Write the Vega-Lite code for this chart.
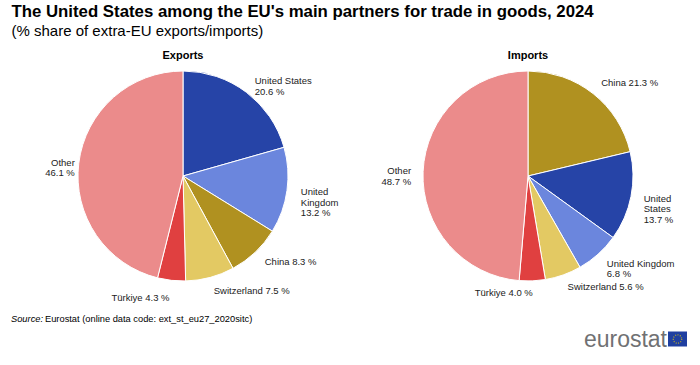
{
  "$schema": "https://vega.github.io/schema/vega-lite/v6.json",
  "background": "white",
  "padding": {"left": 11, "top": 4, "right": 0, "bottom": 0},
  "spacing": 1,
  "title": {
    "text": "The United States among the EU's main partners for trade in goods, 2024",
    "subtitle": "(% share of extra-EU exports/imports)",
    "anchor": "start",
    "dx": 0.5,
    "font": "Liberation Sans",
    "fontSize": 16.8,
    "fontWeight": "bold",
    "color": "#000000",
    "subtitleFont": "Liberation Sans",
    "subtitleFontSize": 15,
    "subtitleColor": "#000000",
    "subtitlePadding": 3,
    "offset": 11
  },
  "config": {
    "view": {"stroke": null},
    "text": {"font": "Liberation Sans"}
  },
  "vconcat": [
    {
      "bounds": "flush",
      "spacing": 1,
      "hconcat": [
        {
          "width": 344,
          "height": 230,
          "title": {"text": "Exports", "font": "Liberation Sans", "fontSize": 11, "fontWeight": "bold", "color": "#000000", "offset": 0},
          "data": {"values": [
            {"partner": "United States", "share": 20.6, "rank": 1, "label": "United States\n20.6 %"},
            {"partner": "United Kingdom", "share": 13.2, "rank": 2, "label": "United\nKingdom\n13.2 %"},
            {"partner": "China", "share": 8.3, "rank": 3, "label": "China 8.3 %"},
            {"partner": "Switzerland", "share": 7.5, "rank": 4, "label": "Switzerland  7.5 %"},
            {"partner": "Türkiye", "share": 4.3, "rank": 5, "label": "Türkiye 4.3 %"},
            {"partner": "Other", "share": 46.1, "rank": 6, "label": "Other\n46.1 %"}
          ]},
          "encoding": {
            "theta": {"field": "share", "type": "quantitative", "stack": true},
            "order": {"field": "rank", "type": "quantitative"}
          },
          "layer": [
            {
              "mark": {"type": "arc", "outerRadius": 105, "stroke": "#ffffff", "strokeWidth": 1},
              "encoding": {
                "color": {"field": "partner", "type": "nominal", "legend": null,
                  "scale": {"domain": ["United States", "United Kingdom", "China", "Switzerland", "Türkiye", "Other"],
                            "range": ["#2644A7", "#6B86DD", "#B09120", "#E3C963", "#E04040", "#EB8B8B"]}}
              }
            },
            {
              "mark": {"type": "text", "radius": 119, "align": "left", "baseline": "middle", "fontSize": 9.5, "lineBreak": "\n", "lineHeight": 10.5, "color": "#222222"},
              "encoding": {"text": {"condition": {"test": "datum.partner !== 'Türkiye' && datum.partner !== 'Other'", "field": "label"}, "value": ""}}
            },
            {
              "mark": {"type": "text", "radius": 123, "align": "right", "baseline": "middle", "fontSize": 9.5, "lineBreak": "\n", "lineHeight": 10.5, "color": "#222222"},
              "encoding": {"text": {"condition": {"test": "datum.partner === 'Türkiye'", "field": "label"}, "value": ""}}
            },
            {
              "mark": {"type": "text", "radius": 109, "align": "right", "baseline": "middle", "fontSize": 9.5, "lineBreak": "\n", "lineHeight": 10.5, "color": "#222222"},
              "encoding": {"text": {"condition": {"test": "datum.partner === 'Other'", "field": "label"}, "value": ""}}
            }
          ]
        },
        {
          "width": 344,
          "height": 230,
          "title": {"text": "Imports", "font": "Liberation Sans", "fontSize": 11, "fontWeight": "bold", "color": "#000000", "offset": 0},
          "data": {"values": [
            {"partner": "China", "share": 21.3, "rank": 1, "label": "China 21.3 %"},
            {"partner": "United States", "share": 13.7, "rank": 2, "label": "United\nStates\n13.7 %"},
            {"partner": "United Kingdom", "share": 6.8, "rank": 3, "label": "United  Kingdom\n6.8 %"},
            {"partner": "Switzerland", "share": 5.6, "rank": 4, "label": "Switzerland  5.6 %"},
            {"partner": "Türkiye", "share": 4.0, "rank": 5, "label": "Türkiye 4.0 %"},
            {"partner": "Other", "share": 48.7, "rank": 6, "label": "Other\n48.7 %"}
          ]},
          "encoding": {
            "theta": {"field": "share", "type": "quantitative", "stack": true},
            "order": {"field": "rank", "type": "quantitative"}
          },
          "layer": [
            {
              "mark": {"type": "arc", "outerRadius": 105, "stroke": "#ffffff", "strokeWidth": 1},
              "encoding": {
                "color": {"field": "partner", "type": "nominal", "legend": null,
                  "scale": {"domain": ["United States", "United Kingdom", "China", "Switzerland", "Türkiye", "Other"],
                            "range": ["#2644A7", "#6B86DD", "#B09120", "#E3C963", "#E04040", "#EB8B8B"]}}
              }
            },
            {
              "mark": {"type": "text", "radius": 118, "align": "left", "baseline": "middle", "fontSize": 9.5, "lineBreak": "\n", "lineHeight": 10.5, "color": "#222222"},
              "encoding": {"text": {"condition": {"test": "datum.partner !== 'Türkiye' && datum.partner !== 'Other'", "field": "label"}, "value": ""}}
            },
            {
              "mark": {"type": "text", "radius": 117, "align": "right", "baseline": "middle", "fontSize": 9.5, "lineBreak": "\n", "lineHeight": 10.5, "color": "#222222"},
              "encoding": {"text": {"condition": {"test": "datum.partner === 'Türkiye' || datum.partner === 'Other'", "field": "label"}, "value": ""}}
            }
          ]
        }
      ]
    },
    {
      "width": 689,
      "height": 55,
      "data": {"values": [{"source": "Eurostat (online data code: ext_st_eu27_2020sitc)", "logo": "eurostat"}]},
      "layer": [
        {
          "mark": {"type": "text", "align": "left", "baseline": "middle", "fontSize": 9.3, "fontStyle": "italic", "color": "#000000"},
          "encoding": {
            "x": {"datum": 0, "type": "quantitative", "scale": {"domain": [0, 689], "nice": false, "zero": false}, "axis": null},
            "y": {"datum": 15, "type": "quantitative", "scale": {"domain": [0, 55], "nice": false, "reverse": true}, "axis": null},
            "text": {"value": "Source:"}
          }
        },
        {
          "mark": {"type": "text", "align": "left", "baseline": "middle", "fontSize": 9.3, "color": "#000000"},
          "encoding": {
            "x": {"datum": 34, "type": "quantitative"},
            "y": {"datum": 15, "type": "quantitative"},
            "text": {"field": "source"}
          }
        },
        {
          "mark": {"type": "text", "align": "right", "baseline": "alphabetic", "fontSize": 23, "color": "#707173"},
          "encoding": {
            "x": {"datum": 656, "type": "quantitative"},
            "y": {"datum": 42.5, "type": "quantitative"},
            "text": {"field": "logo"}
          }
        },
        {
          "mark": {"type": "rect", "color": "#1F3FA0"},
          "encoding": {
            "x": {"datum": 657, "type": "quantitative"},
            "x2": {"datum": 676},
            "y": {"datum": 27.5, "type": "quantitative"},
            "y2": {"datum": 42.5}
          }
        },
        {
          "mark": {"type": "point", "shape": "circle", "filled": false, "size": 70, "stroke": "#F2D300", "strokeWidth": 1.3, "strokeDash": [1, 1.4]},
          "encoding": {
            "x": {"datum": 666.5, "type": "quantitative"},
            "y": {"datum": 35, "type": "quantitative"}
          }
        }
      ]
    }
  ]
}
